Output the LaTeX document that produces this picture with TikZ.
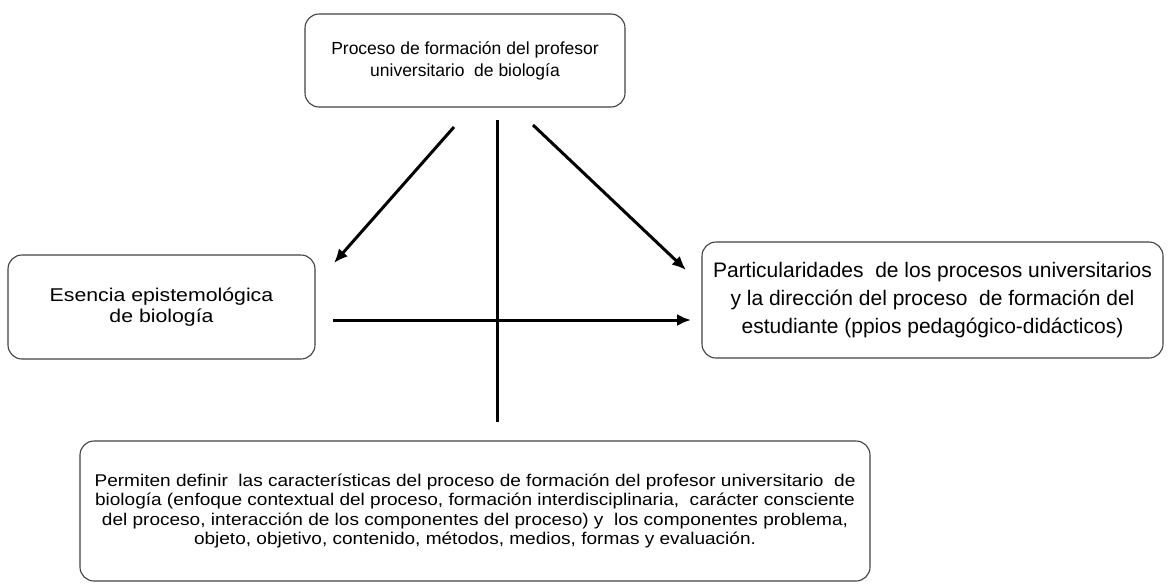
\documentclass[tikz,border=0pt]{standalone}
\usepackage{fontspec}
\setmainfont{Liberation Sans}
\newfontfamily\widesans[FakeStretch=1.12]{Liberation Sans}
\newfontfamily\widersans[FakeStretch=1.15]{Liberation Sans}
\usetikzlibrary{arrows.meta}
\begin{document}
\begin{tikzpicture}[x=1pt,y=-1pt,
  box/.style={draw=black!75,line width=1.1pt,rounded corners=14pt,align=center,inner sep=0pt},
  conn/.style={line width=3pt,-{Latex[length=14pt,width=12pt]}},
  bar/.style={line width=3pt}]
\useasboundingbox (0,0) rectangle (1169,584);
\node[box,minimum width=320pt,minimum height=93pt,font=\fontsize{17.5}{22}\selectfont] (top) at (465,60.5)
  {Proceso de formación del profesor\\universitario\ \ de biología};
\node[box,minimum width=307pt,minimum height=104pt,font=\widersans\fontsize{18.5}{20.5}\selectfont] (left) at (161.5,307)
  {Esencia epistemológica\\de biología};
\node[box,minimum width=461pt,minimum height=116pt,font=\fontsize{21}{28}\selectfont] (right) at (932.5,300)
  {Particularidades\ \ de los procesos universitarios\\y la dirección del proceso\ \ de formación del\\estudiante (ppios pedagógico-didácticos)};
\node[box,minimum width=790pt,minimum height=140pt,font=\widesans\fontsize{17}{19.5}\selectfont] (bottom) at (475,511)
  {Permiten definir\ \ las características del proceso de formación del profesor universitario\ \ de\\biología (enfoque contextual del proceso, formación interdisciplinaria,\ \ carácter consciente\\del proceso, interacción de los componentes del proceso) y\ \ los componentes problema,\\objeto, objetivo, contenido, métodos, medios, formas y evaluación.};
\coordinate (a1) at (454,127);
\coordinate (a1e) at (334,263);
\coordinate (a2) at (533,125);
\coordinate (a2e) at (686,270);
\coordinate (v1) at (497,120);
\coordinate (v2) at (497,422);
\coordinate (h1) at (333,320);
\coordinate (h2) at (691,320);
\draw[conn] (a1) -- (a1e);
\draw[conn] (a2) -- (a2e);
\draw[bar] (v1) -- (v2);
\draw[conn] (h1) -- (h2);
\end{tikzpicture}
\end{document}
